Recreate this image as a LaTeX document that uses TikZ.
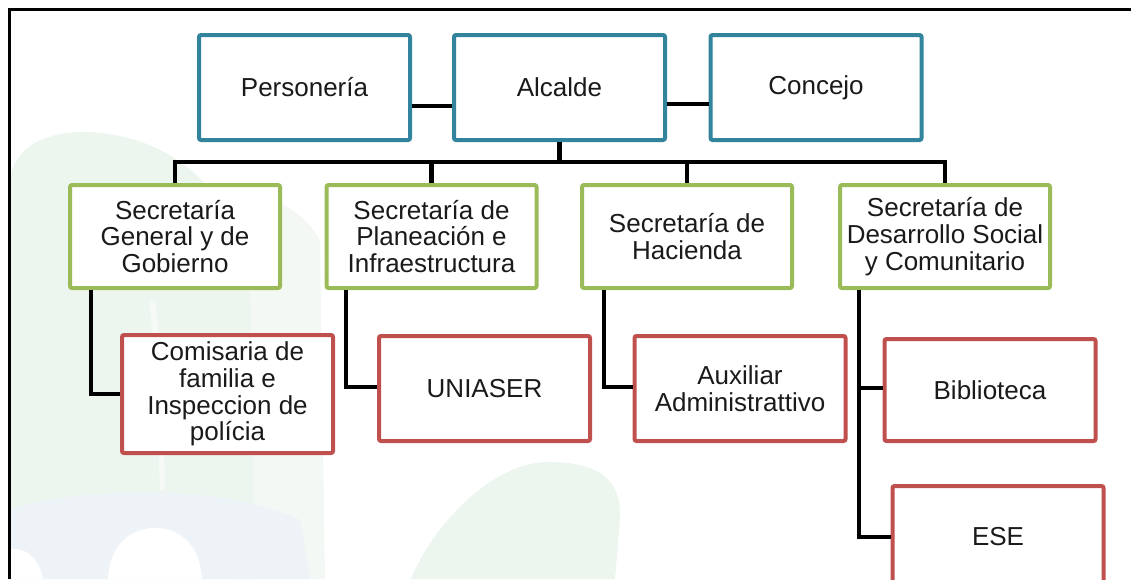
\documentclass[tikz,border=0pt]{standalone}
\usepackage{fontspec}
\setmainfont{Liberation Sans}
\definecolor{topc}{HTML}{31849B}
\definecolor{secc}{HTML}{9BBB59}
\definecolor{subc}{HTML}{C0504D}
\definecolor{txtc}{HTML}{1A1A1A}
\definecolor{wmgreen}{HTML}{EDF5EF}
\definecolor{wmgreenb}{HTML}{F3F8F4}
\definecolor{wmblue}{HTML}{EEF3F7}
\begin{document}
\begin{tikzpicture}[x=1pt,y=-1pt,
  box/.style={draw, line width=4pt, rounded corners=2pt, fill=white,
    minimum width=211pt, inner sep=0pt, align=center, text=txtc,
    font=\fontsize{26}{26.7}\selectfont},
  topbox/.style={box, draw=topc, minimum height=105pt},
  secbox/.style={box, draw=secc, minimum width=210pt, minimum height=103pt},
  subbox/.style={box, draw=subc, minimum height=105pt},
  conn/.style={draw=black, line width=4.3pt},
  frameline/.style={draw=black, line width=3pt}]
\useasboundingbox (0,0) rectangle (1131,579);
% faint watermark
\begin{scope}
\clip (9,9) rectangle (1131,579);
\fill[wmgreenb] (230,579) -- (230,230) .. controls (240,190) and (290,190) .. (320,240) -- (325,579) -- cycle;
\fill[wmgreen] (9,579) -- (9,190) .. controls (9,150) and (40,132) .. (85,132)
  .. controls (170,134) and (240,190) .. (250,290) -- (255,579) -- cycle;
\fill[white, opacity=0.5] (149,300) .. controls (153,330) and (158,420) .. (160,490) -- (165,490) .. controls (164,420) and (160,330) .. (155,300) -- cycle;
\fill[wmblue] (9,579) -- (9,510) .. controls (60,490) and (220,480) .. (300,520) -- (310,579) -- cycle;
\fill[white] (108,579) .. controls (110,540) and (135,528) .. (155,528) .. controls (180,528) and (200,545) .. (202,579) -- cycle;
\fill[white] (9,579) -- (9,550) .. controls (25,545) and (40,560) .. (43,579) -- cycle;
\fill[wmgreen] (411,579) .. controls (430,530) and (490,462) .. (548,462)
  .. controls (600,462) and (622,480) .. (620,520) -- (615,579) -- cycle;
\end{scope}
% frame (top and left only)
\draw[frameline] (9,579) -- (9,9) -- (1131,9);
% top row
\node[topbox] (pers) at (304.5,87.5) {Personería};
\node[topbox] (alc) at (559.5,87.5) {Alcalde};
\node[topbox] (conc) at (816,87.5) {Concejo};
% secretarias
\node[secbox] (g1) at (175,236.5) {Secretaría\\General y de\\Gobierno};
\node[secbox] (g2) at (431.5,236.5) {Secretaría de\\Planeación e\\Infraestructura};
\node[secbox] (g3) at (687,236.5) {Secretaría de\\Hacienda};
\node[secbox] (g4) at (945,236.5) {Secretaría de\\Desarrollo Social\\y Comunitario};
% sub units
\node[subbox, minimum height=118pt] (r1) at (227.5,394) {Comisaria de\\familia e\\Inspeccion de\\polícia};
\node[subbox] (r2) at (484.5,388.5) {UNIASER};
\node[subbox] (r3) at (740,388.5) {Auxiliar\\Administrattivo};
\node[subbox, minimum height=102pt] (r4) at (990,390) {Biblioteca};
\node[subbox, minimum height=102pt] (r5) at (998,537) {ESE};
% connectors
\draw[conn] ([yshift=-18.5pt]pers.east) -- ([yshift=-18.5pt]alc.west);
\draw[conn] ([yshift=-16.5pt]alc.east) -- ([yshift=-16.5pt]conc.west);
\draw[conn] (alc.south) -- ++(0,20);
\draw[conn] (g1.north) -- ++(0,-21) -| (g4.north);
\draw[conn] (g2.north) -- ++(0,-21);
\draw[conn] (g3.north) -- ++(0,-21);
\draw[conn] ([xshift=-84pt]g1.south) |- (r1.west);
\draw[conn] ([xshift=-85.5pt]g2.south) |- ([yshift=1.5pt]r2.west);
\draw[conn] ([xshift=-83pt]g3.south) |- ([yshift=1.5pt]r3.west);
\draw[conn] ([xshift=-86pt]g4.south) |- (r5.west);
\draw[conn] ([xshift=-86pt]g4.south) |- ([yshift=2pt]r4.west);
\end{tikzpicture}
\end{document}
